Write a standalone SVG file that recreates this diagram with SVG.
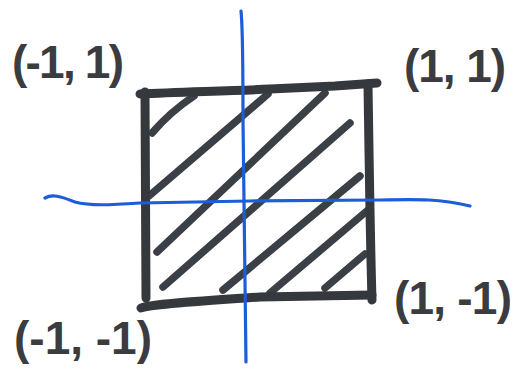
<svg xmlns="http://www.w3.org/2000/svg" width="516" height="370" viewBox="0 0 516 370">
<style>
.edge{fill:none;stroke:#35383d;stroke-width:9;stroke-linecap:round;stroke-linejoin:round}
.hatch{fill:none;stroke:#3b3f46;stroke-width:7.5;stroke-linecap:round}
.axis{fill:none;stroke:#1c5ed8;stroke-width:3.2;stroke-linecap:round}
.lbl{font-family:"Liberation Sans",Arial,sans-serif;font-weight:bold;font-size:46px;fill:#3a3c40}
</style>
<rect width="516" height="370" fill="#ffffff"/>
<g id="hatching">
<path class="hatch" d="M152,133 Q170,112 194,96"/>
<path class="hatch" d="M149,196 L268,94"/>
<path class="hatch" d="M157,252 L325,93"/>
<path class="hatch" d="M163,287 L350,123"/>
<path class="hatch" d="M223,290 L360,176"/>
<path class="hatch" d="M270,293 L368,210"/>
<path class="hatch" d="M325,288 L365,254"/>
</g>
<g id="square">
<path class="edge" d="M140,94 C180,92 230,91 270,89 L335,86 L377,83"/>
<path class="edge" d="M145,92 L146,298"/>
<path class="edge" d="M368,84 C369,150 370,230 372,300"/>
<path class="edge" d="M141,308 C150,304 200,301 260,297 L372,295"/>
</g>
<g id="axes">
<path class="axis" d="M241,11 C243,30 243,60 243,120 L246,362"/>
<path class="axis" d="M45,198 C52,194 60,196 75,202 C90,206 110,205 140,203 L250,201 L380,200 C420,199 440,199 470,206"/>
</g>
<g id="label-tl"><text class="lbl" x="12" y="78" textLength="112">(-1, 1)</text></g>
<g id="label-tr"><text class="lbl" x="404" y="82" textLength="102">(1, 1)</text></g>
<g id="label-bl"><text class="lbl" x="14" y="354" textLength="138">(-1, -1)</text></g>
<g id="label-br"><text class="lbl" x="394" y="314" textLength="118">(1, -1)</text></g>
</svg>
